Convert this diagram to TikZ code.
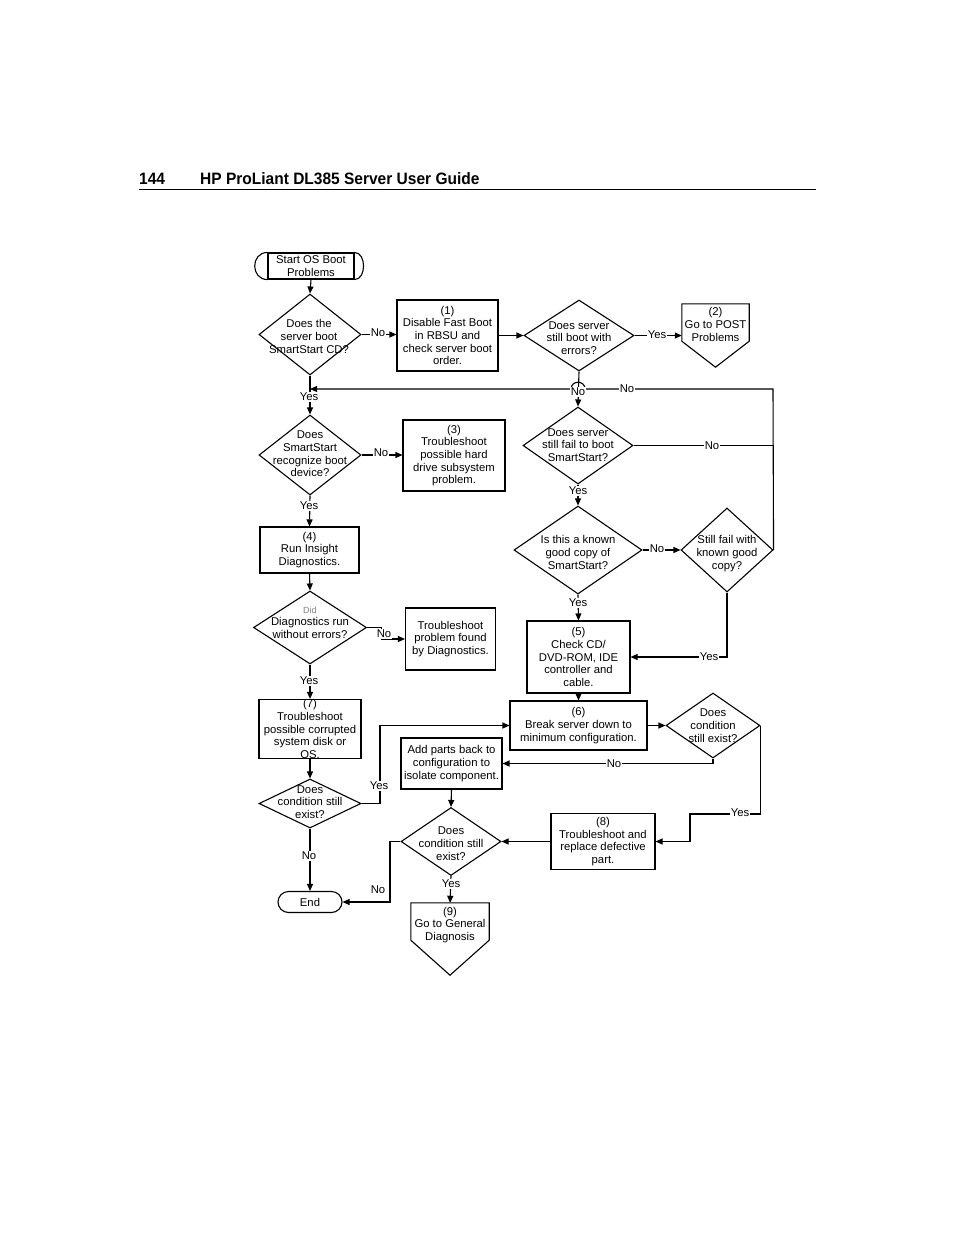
\documentclass[tikz,border=0pt]{standalone}
\usepackage{fontspec}
\setmainfont{Liberation Sans}
\usetikzlibrary{arrows.meta,shapes.geometric,shapes.misc,calc}
\begin{document}
\begin{tikzpicture}[x=1pt,y=-1pt,
  every node/.style={font=\fontsize{11.3}{12.7}\selectfont, inner sep=0pt},
  ln/.style={line width=1.1pt},
  arr/.style={line width=1.1pt,-{Triangle[length=7pt,width=6pt]}},
  box/.style={draw,line width=1.1pt,rectangle,align=center},
  dia/.style={draw,line width=1.1pt,diamond},
  txt/.style={align=center},
  lab/.style={fill=white,inner sep=1pt},
  hdr/.style={font=\fontsize{16.5}{18}\selectfont\bfseries,anchor=base west}]
\useasboundingbox (0,0) rectangle (954,1235);

% header
\node[hdr] (pg) at (139,184) {\scalebox{0.94}[1]{144}};
\node[hdr] (ttl) at (200,184) {\scalebox{0.94}[1]{HP ProLiant DL385 Server User Guide}};
\coordinate (hl) at (139,189.5);
\coordinate (hr) at (816,189.5);
\draw[line width=0.9pt] (hl) -- (hr);

% start terminal
\node[box,minimum width=86pt,minimum height=26pt] (st) at (311,266) {Start OS Boot\\Problems};
\draw[ln] (st.north west) .. controls +(-17,0) and +(-17,0) .. (st.south west);
\draw[ln] (st.north east) .. controls +(12,0) and +(12,0) .. (st.south east);

% left column
\node[dia,minimum width=102pt,minimum height=81pt] (d1) at (310,334.5) {};
\node[txt] (d1t) at (309,336.5) {Does the\\server boot\\SmartStart CD?};

\node[dia,minimum width=102pt,minimum height=80pt] (dl2) at (310,455) {};
\node[txt] (dl2t) at (310,454) {Does\\SmartStart\\recognize boot\\device?};

\node[box,minimum width=99pt,minimum height=46pt] (b4) at (309.5,550) {(4)\\Run Insight\\Diagnostics.};

\node[dia,minimum width=113pt,minimum height=73pt] (dl3) at (310,627.5) {};
\node[txt] (dl3t) at (310,622.5) {{\fontsize{9}{10}\selectfont\color{gray}Did}\\Diagnostics run\\without errors?};

\node[box,minimum width=102pt,minimum height=58pt] (b7) at (310,729) {(7)\\Troubleshoot\\possible corrupted\\system disk or\\OS.};

\node[dia,minimum width=102pt,minimum height=49pt] (dl4) at (310,803.5) {};
\node[txt] (dl4t) at (310,802) {Does\\condition still\\exist?};

\node[draw,ln,rounded rectangle,minimum width=64pt,minimum height=21pt] (en) at (310,902) {End};

% second column
\node[box,minimum width=101pt,minimum height=71pt] (b1) at (447.5,335.5) {(1)\\Disable Fast Boot\\in RBSU and\\check server boot\\order.};
\node[box,minimum width=102pt,minimum height=71pt] (b3) at (454,455.5) {(3)\\Troubleshoot\\possible hard\\drive subsystem\\problem.};
\node[box,minimum width=90pt,minimum height=62pt] (btp) at (450.5,639) {Troubleshoot\\problem found\\by Diagnostics.};
\node[box,minimum width=101pt,minimum height=51pt] (addp) at (451.5,763.5) {Add parts back to\\configuration to\\isolate component.};
\node[dia,minimum width=100pt,minimum height=68pt] (d8) at (451,841.5) {};
\node[txt] (d8t) at (451,843.5) {Does\\condition still\\exist?};
\node[minimum width=78pt,minimum height=72pt] (p9) at (450,939) {};
\draw[ln] (p9.north west) -- (p9.north east) -- ([yshift=35pt]p9.south east) -- (p9.south) -- ([yshift=35pt]p9.south west) -- cycle;
\node[txt] (p9t) at (450,925) {(9)\\Go to General\\Diagnosis};

% third column
\node[dia,minimum width=110pt,minimum height=71pt] (d2) at (579,335.5) {};
\node[txt] (d2t) at (579,338) {Does server\\still boot with\\errors?};
\node[dia,minimum width=110pt,minimum height=77pt] (d3) at (578,445.5) {};
\node[txt] (d3t) at (578,445) {Does server\\still fail to boot\\SmartStart?};
\node[dia,minimum width=128pt,minimum height=88pt] (d4) at (578,550) {};
\node[txt] (d4t) at (578,552.5) {Is this a known\\good copy of\\SmartStart?};
\node[box,minimum width=103pt,minimum height=72pt] (b5) at (578.5,657) {(5)\\Check CD/\\DVD-ROM, IDE\\controller and\\cable.};
\node[box,minimum width=137pt,minimum height=49pt] (b6) at (578.5,725.5) {(6)\\Break server down to\\minimum configuration.};
\node[box,minimum width=104pt,minimum height=56pt] (b8) at (603,841.5) {(8)\\Troubleshoot and\\replace defective\\part.};

% fourth column
\node[minimum width=67pt,minimum height=63pt] (p2) at (715.5,335.5) {};
\draw[ln] (p2.north west) -- (p2.north east) -- ([yshift=26pt]p2.south east) -- (p2.south) -- ([yshift=26pt]p2.south west) -- cycle;
\node[txt] (p2t) at (715.5,324.5) {(2)\\Go to POST\\Problems};
\node[dia,minimum width=92pt,minimum height=84pt] (d5) at (727,550) {};
\node[txt] (d5t) at (727,553.5) {Still fail with\\known good\\copy?};
\node[dia,minimum width=94pt,minimum height=65pt] (d6) at (713,725.5) {};
\node[txt] (d6t) at (713,725.5) {Does\\condition\\still exist?};

% helper coordinates
\coordinate (r1) at (773,389);
\coordinate (hA) at (585,389);
\coordinate (hB) at (571,389);
\coordinate (y2) at (690,814);
\coordinate (n1) at (390,841.5);
\coordinate (c4) at (380,725.5);

% connectors
\draw[arr] (st.south) -- (d1.north);
\draw[arr] (d1.east) -- (d1.east -| b1.west);
\draw[arr] (b1.east) -- (b1.east -| d2.west);
\draw[arr] (d2.east) -- (d2.east -| p2.west);
\draw[arr] (d2.south) -- (d3.north);
\draw[arr] (d5.east) -- (r1) -- (hA) .. controls +(0,-9) and +(0,-9) .. (hB) -- (d1.south |- r1);
\draw[ln] (d3.east) -- (d3.east -| r1);
\draw[arr] (d3.south) -- (d4.north);
\draw[arr] (d4.east) -- (d4.east -| d5.west);
\draw[arr] (d4.south) -- (b5.north);
\draw[arr] (d5.south) |- (b5.east);
\draw[arr] (b5.south) -- (b6.north);
\draw[arr] (b6.east) -- (d6.west);
\draw[arr] (d6.south) |- (addp.east);
\draw[arr] (d6.east) |- (y2) |- (b8.east);
\draw[arr] (b8.west) -- (d8.east);
\draw[arr] (addp.south) -- (d8.north);
\draw[arr] (d8.south) -- (p9.north);
\draw[arr] (d8.west) -- (n1) |- (en.east);
\draw[arr] (d1.south) -- (dl2.north);
\draw[arr] (dl2.east) -- (dl2.east -| b3.west);
\draw[arr] (dl2.south) -- (b4.north);
\draw[arr] (b4.south) -- (dl3.north);
\draw[arr] (dl3.east) -- ++(14,0) |- (btp.west);
\draw[arr] (dl3.south) -- (b7.north);
\draw[arr] (b7.south) -- (dl4.north);
\draw[arr] (dl4.east) -| (c4) -- (b6.west);
\draw[arr] (dl4.south) -- (en.north);

% labels
\node[lab] (l1) at (378,333) {No};
\node[lab] (l2) at (657,335) {Yes};
\node[lab] (l3) at (578,392) {No};
\node[lab] (l4) at (627,389) {No};
\node[lab] (l5) at (712,446) {No};
\node[lab] (l6) at (578,491) {Yes};
\node[lab] (l7) at (657,549) {No};
\node[lab] (l8) at (578,603) {Yes};
\node[lab] (l9) at (709,657) {Yes};
\node[lab] (l10) at (614,764) {No};
\node[lab] (l11) at (740,813) {Yes};
\node[lab] (l12) at (451,884) {Yes};
\node[lab] (l13) at (378,890) {No};
\node[lab] (l14) at (309,397) {Yes};
\node[lab] (l15) at (381,453) {No};
\node[lab] (l16) at (309,506) {Yes};
\node[lab] (l17) at (384,634) {No};
\node[lab] (l18) at (309,681) {Yes};
\node[lab] (l19) at (379,786) {Yes};
\node[lab] (l20) at (309,856) {No};
\end{tikzpicture}
\end{document}
